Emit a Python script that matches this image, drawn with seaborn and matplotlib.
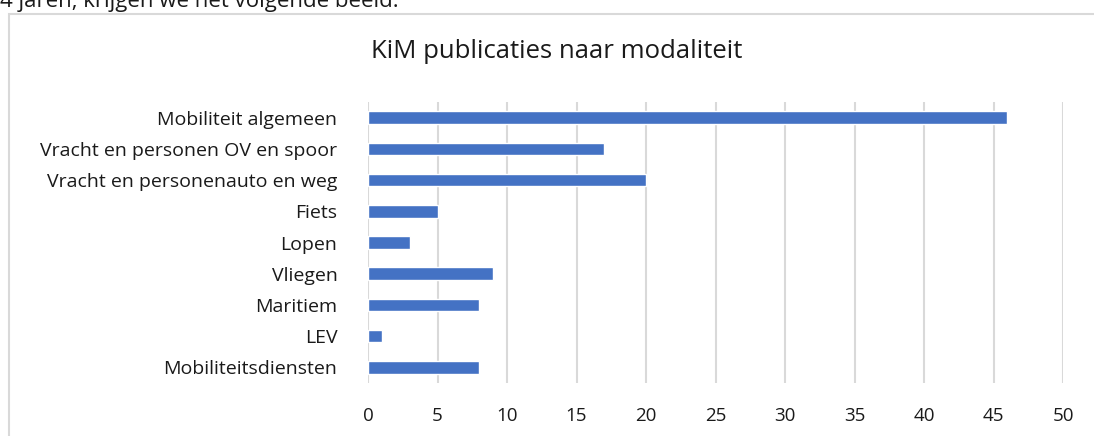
import matplotlib
matplotlib.use("Agg")
import matplotlib.pyplot as plt
import seaborn as sns
import pandas as pd
from matplotlib.patches import Rectangle

# publication counts per modality
categories = [
    "Mobiliteit algemeen",
    "Vracht en personen OV en spoor",
    "Vracht en personenauto en weg",
    "Fiets",
    "Lopen",
    "Vliegen",
    "Maritiem",
    "LEV",
    "Mobiliteitsdiensten",
]
counts = [46, 17, 20, 5, 3, 9, 8, 1, 8]
x_ticks = [0, 5, 10, 15, 20, 25, 30, 35, 40, 45, 50]

df = pd.DataFrame({"modaliteit": categories, "aantal": counts})

sns.set_style("white")
plt.rcParams["font.family"] = ["Open Sans", "DejaVu Sans"]

fig = plt.figure(figsize=(10.94, 4.36), dpi=100)
ax = fig.add_axes([368 / 1094, 1 - 383 / 436, (1063 - 368) / 1094, (383 - 102) / 436])

sns.barplot(data=df, x="aantal", y="modaliteit", orient="h", color="#4472C4",
            width=0.4, saturation=1, ax=ax, zorder=3)

ax.set_xlim(0, 50)
ax.set_ylim(8.5, -0.5)
ax.set_xticks(x_ticks)
ax.grid(axis="x", color="#D9D9D9", linewidth=1.5, zorder=0)
ax.set_axisbelow(True)
ax.set_xlabel("")
ax.set_ylabel("")
for s in ax.spines.values():
    s.set_visible(False)
ax.tick_params(axis="y", length=0, pad=22, labelsize=14, labelcolor="#1a1a1a")
ax.tick_params(axis="x", length=0, pad=17, labelsize=13.5, labelcolor="#1a1a1a")

fig.text(557 / 1094, 1 - 52 / 436, "KiM publicaties naar modaliteit",
         ha="center", va="center", fontsize=18.5, color="#1a1a1a")

# chart frame and the cut-off sentence above it
fig.patches.append(Rectangle((9 / 1094, -0.05), 1.1, 1 - 14 / 436 + 0.05,
                             transform=fig.transFigure, fill=False,
                             edgecolor="#D9D9D9", linewidth=1.5))
fig.text(0, 1 - 7 / 436, "4 jaren, krijgen we het volgende beeld.",
         ha="left", va="baseline", fontsize=16, color="#1a1a1a")

fig.savefig("out.png", dpi=100)
